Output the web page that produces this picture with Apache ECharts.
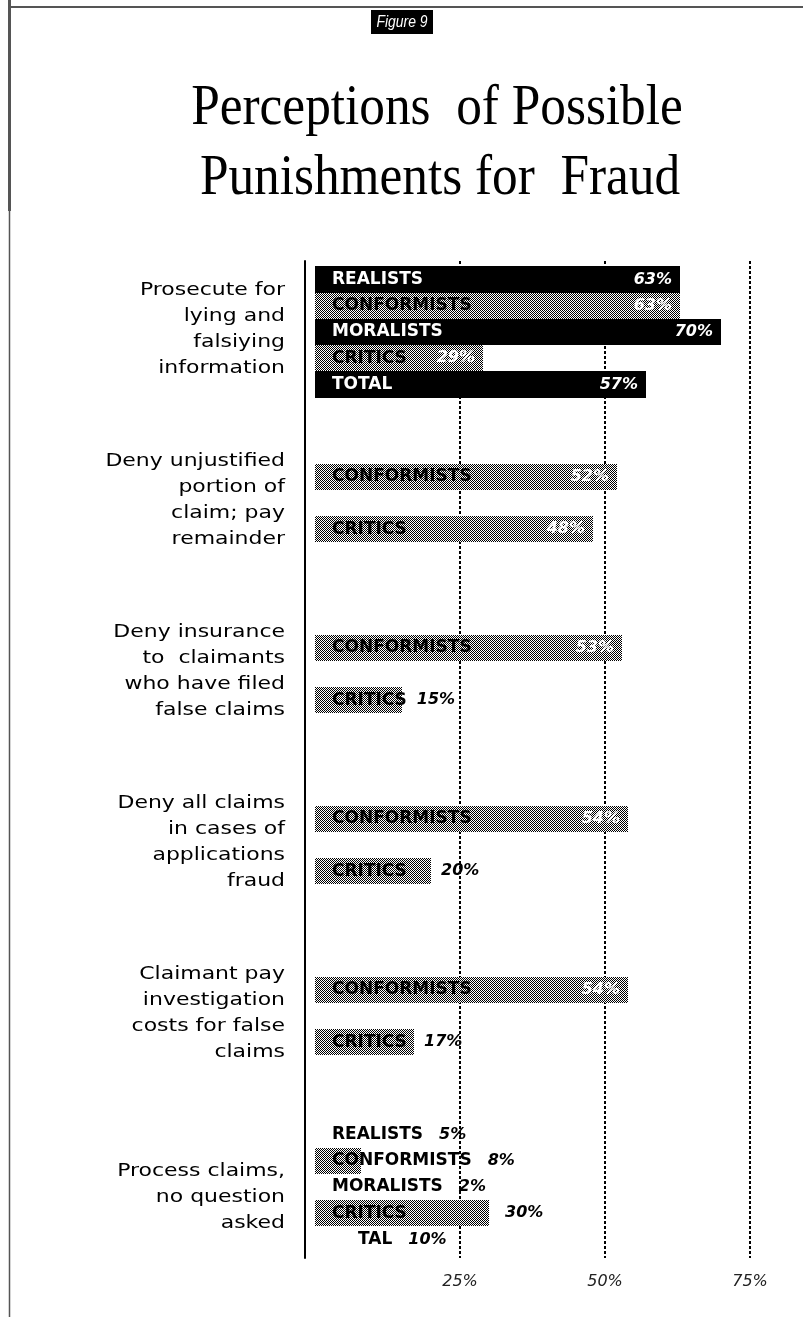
<!DOCTYPE html>
<html><head><meta charset="utf-8">
<script src="https://cdn.jsdelivr.net/npm/echarts@6/dist/echarts.min.js"></script>
<style>html,body{margin:0;padding:0;background:#fff}#c{width:803px;height:1317px}</style>
</head><body><div id="c"></div>
<script>
// ---------- data ----------
const groupLabels = [
  'Prosecute for\nlying and\nfalsiying\ninformation',
  'Deny unjustified\nportion of\nclaim; pay\nremainder',
  'Deny insurance\nto  claimants\nwho have filed\nfalse claims',
  'Deny all claims\nin cases of\napplications\nfraud',
  'Claimant pay\ninvestigation\ncosts for false\nclaims',
  'Process claims,\nno question\nasked'
];
const segments = ['REALISTS', 'CONFORMISTS', 'MORALISTS', 'CRITICS', 'TOTAL'];
const realists    = [63, null, null, null, null, 5];
const conformists = [63, 52, 53, 54, 54, 8];
const moralists   = [70, null, null, null, null, 2];
const critics     = [29, 48, 15, 20, 17, 30];
const total       = [57, null, null, null, null, 10];
const xTicks = [25, 50, 75];
const seriesValues = [realists, conformists, moralists, critics, total];

// ---------- layout / style ----------
const GROUP_STEP = 6.5;          // rows per group incl. gap
const SOLID = [true, false, true, false, true];
const NAME_FONT = 'bold 17px "DejaVu Sans"';
const VAL_FONT = 'italic bold 16px "DejaVu Sans"';
const lastGroup = groupLabels.length - 1;

const mc = document.createElement('canvas').getContext('2d');
function measure(t, f) { mc.font = f; return mc.measureText(t).width; }

const pc = document.createElement('canvas'); pc.width = 2; pc.height = 2;
const pctx = pc.getContext('2d');
pctx.fillStyle = '#fff'; pctx.fillRect(0, 0, 2, 2);
pctx.fillStyle = '#000'; pctx.fillRect(0, 0, 1, 1); pctx.fillRect(1, 1, 1, 1);
const dither = { image: pc, repeat: 'repeat' };

function makeRender(s) {
  return function (params, api) {
    const v = api.value(0), pos = api.value(1), g = api.value(2);
    const a = api.coord([0, pos]), b = api.coord([v, pos]);
    const unit = api.size([0, 1])[1];
    const x0 = Math.round(a[0]), x1 = Math.round(b[0]);
    const yTop = Math.round(a[1] - unit / 2), yBot = Math.round(a[1] + unit / 2);
    const yc = a[1];
    const last = g === lastGroup;
    const solid = SOLID[s];
    const showBar = !(last && solid);
    const children = [];
    if (showBar) {
      children.push({ type: 'rect', shape: { x: x0, y: yTop, width: x1 - x0, height: yBot - yTop },
        style: { fill: solid ? '#000' : dither } });
    }
    const name = segments[s];
    const nameX = x0 + 17;
    const nameW = measure(name, NAME_FONT);
    const nameStyle = { x: nameX, y: yc, textAlign: 'left', textVerticalAlign: 'middle',
      font: NAME_FONT, fill: (solid && showBar) ? '#fff' : '#000' };
    if (last && s === 4) {
      nameStyle.text = '{h|TO}TAL';
      nameStyle.rich = { h: { fill: '#fff', color: '#fff', font: NAME_FONT } };
    } else {
      nameStyle.text = name;
    }
    children.push({ type: 'text', style: nameStyle });
    const vt = v + '%';
    const vw = measure(vt, VAL_FONT);
    const inside = !last && (x1 - 8 - vw >= nameX + nameW + 10);
    if (inside) {
      children.push({ type: 'text', style: { text: vt, x: x1 - 8, y: yc, textAlign: 'right',
        textVerticalAlign: 'middle', font: VAL_FONT, fill: '#fff' } });
    } else {
      const lx = Math.max(x1, nameX + nameW) + (last ? 16 : 10);
      children.push({ type: 'text', style: { text: vt, x: lx, y: yc, textAlign: 'left',
        textVerticalAlign: 'middle', font: VAL_FONT, fill: '#000' } });
    }
    return { type: 'group', children: children };
  };
}

const series = segments.map(function (name, s) {
  const data = [];
  seriesValues[s].forEach(function (v, g) {
    if (v != null) data.push([v, g * GROUP_STEP + s, g]);
  });
  return { type: 'custom', name: name, coordinateSystem: 'cartesian2d', clip: false,
    encode: { x: 0, y: 1 }, renderItem: makeRender(s), data: data, z: 3 };
});

series.push({
  type: 'custom', name: 'groups', coordinateSystem: 'cartesian2d', clip: false,
  encode: { x: 0, y: 1 },
  data: groupLabels.map(function (t, g) { return [0, g * GROUP_STEP + 4, g]; }),
  renderItem: function (params, api) {
    const g = api.value(2);
    const p = api.coord([0, api.value(1)]);
    return { type: 'text', x: p[0] - 30, y: p[1] - 3, scaleX: 1.22,
      style: { text: groupLabels[g], x: 0, y: 0, textAlign: 'right', textVerticalAlign: 'bottom',
        font: '18px "DejaVu Sans"', lineHeight: 26, fill: '#000' } };
  }
});

const chart = echarts.init(document.getElementById('c'), null, { renderer: 'canvas' });
chart.setOption({
  animation: false,
  backgroundColor: '#fff',
  grid: { left: 315, right: 53, top: 261, height: 997, containLabel: false, outerBoundsMode: 'none' },
  xAxis: {
    type: 'value', min: 0, max: 75, interval: 25,
    axisLine: { show: false }, axisTick: { show: false },
    axisLabel: { showMinLabel: false, margin: 16, color: '#222', fontStyle: 'italic',
      fontSize: 16, fontFamily: 'DejaVu Sans',
      formatter: function (v) { return xTicks.indexOf(v) >= 0 ? v + '%' : ''; } },
    splitLine: { show: true, showMinLine: false, lineStyle: { color: '#000', width: 2, type: [3, 2] } }
  },
  yAxis: {
    type: 'value', inverse: true, min: -0.7, max: 37.2, offset: 10,
    axisLine: { show: true, onZero: false, lineStyle: { color: '#000', width: 2 } },
    axisTick: { show: false }, axisLabel: { show: false }, splitLine: { show: false }
  },
  graphic: [
    { type: 'line', shape: { x1: 8, y1: 7, x2: 803, y2: 7 }, style: { stroke: '#555', lineWidth: 2 } },
    { type: 'rect', shape: { x: 8, y: 0, width: 3, height: 211 }, style: { fill: '#555' } },
    { type: 'line', shape: { x1: 9.5, y1: 211, x2: 9.5, y2: 1317 }, style: { stroke: '#555', lineWidth: 1.5 } },
    { type: 'rect', shape: { x: 371, y: 10, width: 62, height: 24 }, style: { fill: '#000' } },
    { type: 'text', x: 402, y: 22, scaleX: 0.82,
      style: { text: 'Figure 9', fill: '#fff', font: 'italic 17px "Liberation Sans"', textAlign: 'center', textVerticalAlign: 'middle' } },
    { type: 'text', x: 437, y: 109, scaleX: 0.9,
      style: { text: 'Perceptions  of Possible', fill: '#000', font: '57px "Liberation Serif"', textAlign: 'center', textVerticalAlign: 'middle' } },
    { type: 'text', x: 440, y: 179, scaleX: 0.9,
      style: { text: 'Punishments for  Fraud', fill: '#000', font: '57px "Liberation Serif"', textAlign: 'center', textVerticalAlign: 'middle' } }
  ],
  series: series
});
</script></body></html>
